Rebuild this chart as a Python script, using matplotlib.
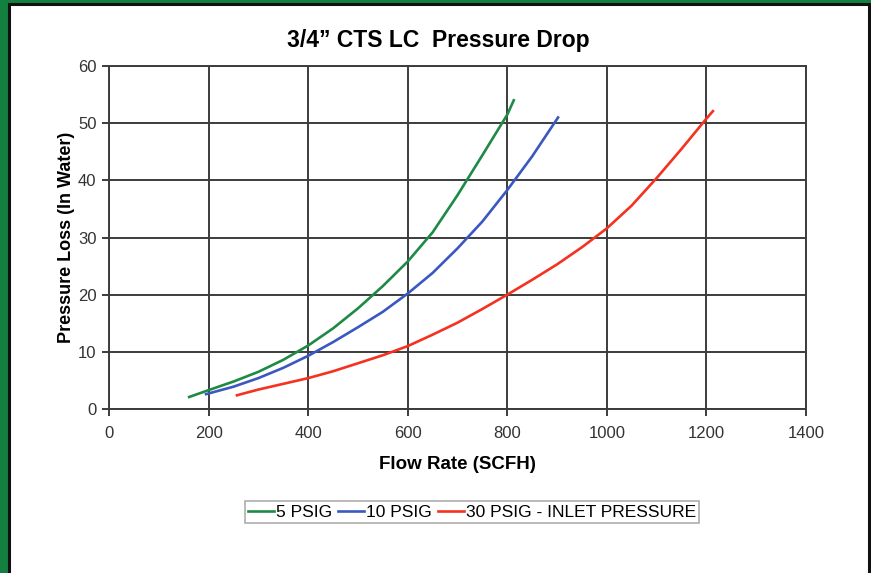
import matplotlib
matplotlib.use("Agg")
import matplotlib.pyplot as plt
from matplotlib.patches import Rectangle

# values
x_5 = [161, 200, 250, 300, 350, 400, 450, 500, 550, 600, 650, 700, 750, 800, 813]
y_5 = [2.1, 3.3, 4.8, 6.5, 8.6, 11.1, 14.1, 17.6, 21.5, 25.8, 30.9, 37.4, 44.4, 51.5, 54.0]

x_10 = [195, 250, 300, 350, 400, 450, 500, 550, 600, 650, 700, 750, 800, 850, 902]
y_10 = [2.6, 3.9, 5.4, 7.2, 9.3, 11.7, 14.3, 17.0, 20.2, 23.8, 28.1, 32.8, 38.3, 44.2, 51.0]

x_30 = [257, 300, 350, 400, 450, 500, 550, 600, 650, 700, 750, 800, 850, 900, 950,
        1000, 1050, 1100, 1150, 1200, 1213]
y_30 = [2.4, 3.4, 4.4, 5.4, 6.6, 8.0, 9.4, 11.0, 13.0, 15.1, 17.5, 20.0, 22.6, 25.3, 28.3,
        31.6, 35.6, 40.4, 45.5, 50.8, 52.1]

labels = ["5 PSIG", "10 PSIG", "30 PSIG - INLET PRESSURE"]
colors = ["#1f8a45", "#3a58bf", "#f4321f"]

xticks = [0, 200, 400, 600, 800, 1000, 1200, 1400]
yticks = [0, 10, 20, 30, 40, 50, 60]

plt.rcParams['font.family'] = ['Liberation Sans', 'DejaVu Sans']

fig = plt.figure(figsize=(8.71, 5.73), dpi=100, facecolor="#138040")
# white panel with dark outline
fig.patches.append(Rectangle((9 / 871, -0.01), (869 - 9) / 871, (573 - 4) / 573 + 0.01,
                             transform=fig.transFigure, facecolor="white",
                             edgecolor="#111111", linewidth=2.2, zorder=-10))

ax = fig.add_axes([109 / 871, 1 - 409 / 573, (806 - 109) / 871, (409 - 66) / 573])
ax.set_zorder(5)
ax.set_facecolor("white")

ax.plot(x_5, y_5, color=colors[0], lw=1.9, label=labels[0])
ax.plot(x_10, y_10, color=colors[1], lw=1.9, label=labels[1])
ax.plot(x_30, y_30, color=colors[2], lw=1.9, label=labels[2])

ax.set_xlim(0, 1400)
ax.set_ylim(0, 60)
ax.set_xticks(xticks)
ax.set_yticks(yticks)
ax.grid(True, color="#3c3c3c", lw=1.4)
ax.set_axisbelow(True)
for s in ax.spines.values():
    s.set_color("#3c3c3c")
    s.set_linewidth(1.4)
ax.tick_params(colors="#3c3c3c", width=1.4, length=5, labelsize=12, labelcolor="#333333")
ax.tick_params(axis="x", pad=7)
ax.tick_params(axis="y", pad=4)

ax.set_xlabel("Flow Rate (SCFH)", fontsize=13.5, fontweight="bold", labelpad=11)
ax.set_ylabel("Pressure Loss (In Water)", fontsize=13, fontweight="bold", labelpad=2)

fig.text(438 / 871, 1 - 40 / 573, "3/4\u201d CTS LC  Pressure Drop",
         fontsize=16.5, fontweight="bold", ha="center", va="center")

leg = fig.legend(loc="center", bbox_to_anchor=(472 / 871, 1 - 512 / 573), ncol=3,
                 fontsize=12.5, frameon=True, fancybox=False, handlelength=1.5,
                 handletextpad=0.1, columnspacing=0.35, borderpad=0.2)
leg.get_frame().set_edgecolor("#999999")
leg.get_frame().set_linewidth(1.2)

fig.savefig("out.png", dpi=100, facecolor=fig.get_facecolor())
